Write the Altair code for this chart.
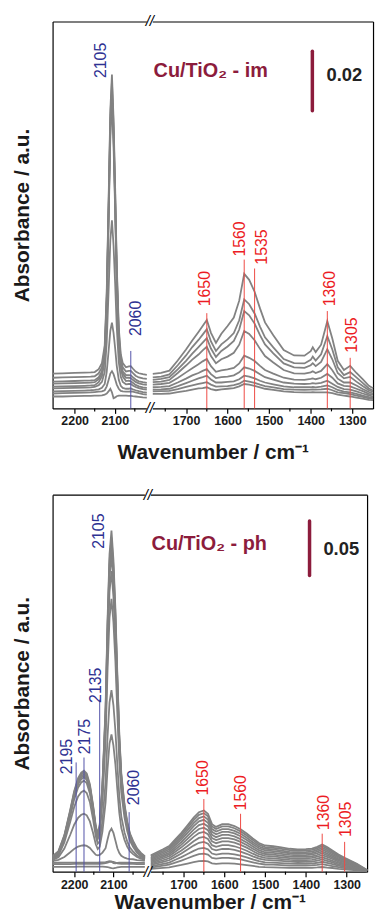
import altair as alt
import pandas as pd

FONT = "Liberation Sans"
MAROON = "#8C1C3C"
RED = "#EC1C24"
RED_LINE = "#EE4A44"
NAVY = "#2E3192"
NAVY_LINE = "#5252A8"
GRAY = "#828282"

# ---------------- x axis (broken) ----------------
X_DOMAIN = [2255, 2020, 1780, 1250]
BREAK_LO, BREAK_MID, BREAK_HI = 2020, 1900, 1780
MAJOR_TICKS = [2200, 2100, 1700, 1600, 1500, 1400, 1300]
MINOR_TICKS = [2150, 2050, 1750, 1650, 1550, 1450, 1350]

# ---------------- Cu/TiO2 - im (units of 0.001 absorbance) ----------------
IM_WN_L = [2255, 2230, 2200, 2175, 2160, 2150, 2140, 2132, 2125, 2120, 2115, 2111, 2107, 2103,
           2099, 2095, 2090, 2085, 2080, 2072, 2065, 2060, 2055, 2048, 2040, 2030, 2020]
IM_L1 = [4.0, 4.0, 4.1, 4.2, 4.2, 4.3, 4.3, 4.4, 4.6, 5.0, 5.8, 6.6, 5.4, 3.4, 3.7, 4.1, 4.3, 4.3, 4.3, 4.3, 4.2, 4.2, 4.1, 4.0, 3.9, 3.7, 3.6]
IM_L2 = [5.0, 5.1, 5.2, 5.3, 5.4, 5.5, 5.6, 5.7, 6.1, 7.4, 9.7, 11.7, 12.5, 11.5, 9.8, 8.0, 6.6, 5.9, 5.7, 5.6, 5.6, 5.7, 5.6, 5.4, 5.1, 4.8, 4.6]
IM_L3 = [5.7, 5.8, 5.9, 6.0, 6.1, 6.2, 6.4, 6.9, 8.2, 12.3, 19.8, 26.1, 28.8, 25.4, 20.2, 14.3, 9.6, 7.6, 6.9, 6.6, 6.6, 6.7, 6.4, 6.1, 5.8, 5.5, 5.3]
IM_L4 = [6.7, 6.8, 6.9, 7.0, 7.1, 7.2, 7.8, 8.9, 12.2, 22.3, 40.8, 56.5, 63.2, 54.8, 41.9, 27.4, 15.6, 10.6, 8.9, 8.1, 8.2, 8.2, 7.7, 7.2, 6.8, 6.5, 6.3]
IM_L5 = [7.3, 7.4, 7.5, 7.6, 7.7, 7.8, 8.8, 10.7, 16.4, 33.5, 64.8, 91.4, 102.8, 88.6, 66.7, 42.0, 22.1, 13.5, 10.7, 9.2, 9.3, 9.1, 8.6, 7.9, 7.4, 7.1, 6.9]
IM_L6 = [8.3, 8.4, 8.5, 8.6, 8.7, 8.8, 9.8, 11.7, 17.5, 35.0, 67.0, 94.2, 105.8, 91.3, 68.9, 43.7, 23.4, 14.6, 11.7, 10.3, 10.3, 10.2, 9.6, 8.9, 8.4, 8.1, 7.9]
IM_L7 = [9.0, 9.1, 9.2, 9.3, 9.4, 9.5, 10.5, 12.4, 18.3, 36.0, 68.3, 95.7, 107.5, 92.8, 70.3, 44.8, 24.2, 15.4, 12.4, 11.2, 11.2, 11.1, 10.5, 9.7, 9.1, 8.8, 8.6]
IM_L8 = [10.3, 10.4, 10.5, 10.6, 10.7, 10.8, 11.8, 13.8, 19.7, 37.5, 70.2, 97.9, 109.8, 95.0, 72.2, 46.4, 25.7, 16.7, 13.8, 12.4, 12.6, 12.6, 11.9, 11.0, 10.4, 10.1, 9.9]
IM_L9 = [11.7, 11.8, 11.9, 12.0, 12.1, 12.2, 13.2, 15.2, 21.2, 39.2, 72.2, 100.2, 112.2, 97.2, 74.2, 48.2, 27.2, 18.2, 15.2, 13.8, 14.1, 14.2, 13.4, 12.4, 11.8, 11.5, 11.3]

IM_WN_R = [1780, 1760, 1740, 1720, 1700, 1685, 1670, 1660, 1650, 1640, 1628, 1615, 1600, 1585, 1572, 1560,
           1548, 1535, 1522, 1510, 1490, 1465, 1440, 1415, 1400, 1395, 1388, 1375, 1360, 1348, 1335, 1320,
           1305, 1290, 1275, 1260, 1250]
IM_R1 = [4.9, 4.9, 5.0, 5.5, 5.9, 6.3, 6.7, 6.8, 7.1, 6.5, 6.1, 6.4, 6.6, 6.8, 7.4, 8.2, 8.0, 7.6, 7.1, 6.6, 6.2, 5.7, 5.5, 5.4, 5.4, 5.5, 5.4, 5.4, 5.4, 5.1, 4.6, 4.3, 4.0, 3.6, 3.3, 2.9, 2.8]
IM_R2 = [5.7, 5.8, 5.9, 6.5, 7.2, 7.7, 8.2, 8.5, 8.8, 8.0, 7.3, 7.4, 7.5, 7.8, 8.3, 9.3, 9.0, 8.6, 8.0, 7.5, 7.1, 6.5, 6.3, 6.2, 6.3, 6.4, 6.3, 6.4, 6.6, 6.1, 5.4, 5.1, 4.8, 4.3, 3.9, 3.4, 3.2]
IM_R3 = [6.3, 6.4, 6.6, 7.5, 8.5, 9.3, 10.1, 10.5, 11.0, 9.7, 8.7, 8.7, 8.9, 9.1, 9.8, 11.0, 10.7, 10.1, 9.3, 8.7, 8.1, 7.4, 7.1, 7.1, 7.1, 7.2, 7.1, 7.3, 7.7, 7.1, 6.2, 5.6, 5.4, 4.9, 4.3, 3.8, 3.6]
IM_R4 = [7.1, 7.2, 7.5, 8.7, 10.0, 11.1, 11.9, 12.6, 13.2, 11.5, 10.2, 10.5, 10.7, 11.1, 12.1, 13.8, 13.4, 12.6, 11.5, 10.5, 9.7, 8.7, 8.3, 8.2, 8.3, 8.5, 8.3, 8.6, 9.3, 8.3, 7.2, 6.5, 6.3, 5.7, 5.0, 4.4, 4.0]
IM_R5 = [8.0, 8.2, 8.6, 10.2, 12.1, 13.5, 14.8, 15.8, 16.6, 14.2, 12.3, 12.8, 13.1, 13.6, 15.1, 17.7, 17.0, 15.9, 14.3, 12.9, 11.7, 10.3, 9.7, 9.6, 9.9, 10.1, 9.8, 10.3, 11.6, 10.3, 8.4, 7.6, 7.4, 6.6, 5.8, 4.9, 4.6]
IM_R6 = [8.8, 9.0, 9.6, 11.9, 14.4, 16.4, 18.1, 19.5, 20.7, 17.6, 15.2, 16.5, 17.4, 18.7, 21.4, 26.0, 25.0, 22.9, 20.0, 17.6, 15.4, 12.9, 11.8, 11.7, 12.1, 12.5, 11.9, 12.6, 14.9, 12.8, 10.0, 8.7, 8.7, 7.7, 6.5, 5.5, 5.0]
IM_R7 = [9.6, 9.9, 10.5, 13.1, 16.0, 18.4, 20.6, 22.1, 23.6, 20.1, 17.3, 19.3, 20.8, 22.7, 26.5, 32.7, 31.3, 28.5, 24.6, 21.5, 18.5, 15.1, 13.8, 13.6, 14.5, 15.2, 14.2, 15.6, 19.9, 16.5, 11.9, 10.1, 10.6, 9.0, 7.5, 6.1, 5.6]
IM_R8 = [10.4, 10.7, 11.4, 14.5, 17.8, 20.6, 23.0, 24.8, 26.6, 22.5, 19.3, 21.5, 23.2, 25.3, 29.6, 36.6, 35.0, 31.9, 27.5, 23.9, 20.5, 16.6, 15.2, 15.1, 16.3, 17.4, 16.1, 18.2, 24.3, 19.8, 13.8, 11.2, 12.2, 10.4, 8.6, 6.7, 6.0]
IM_R9 = [11.6, 11.9, 12.7, 16.1, 19.8, 22.8, 25.7, 27.7, 29.7, 25.4, 22.0, 25.1, 27.7, 30.5, 36.2, 45.2, 43.2, 39.2, 33.6, 28.9, 24.6, 19.6, 17.8, 17.7, 19.2, 20.5, 18.9, 21.4, 29.3, 23.5, 16.0, 12.9, 14.3, 11.9, 9.8, 7.6, 6.8]

# ---------------- Cu/TiO2 - ph (units of 0.001 absorbance) ----------------
PH_WN_L = [2255, 2240, 2225, 2210, 2200, 2190, 2182, 2175, 2168, 2160, 2152, 2145, 2140, 2135, 2128, 2120,
           2115, 2110, 2105, 2100, 2095, 2090, 2085, 2080, 2072, 2065, 2058, 2050, 2040, 2030, 2020]
PH_L1 = [4.5, 4.5, 4.5, 4.5, 4.5, 4.6, 4.6, 4.6, 4.6, 4.6, 4.6, 4.6, 4.6, 4.6, 4.6, 4.5, 4.3, 3.8, 3.2, 3.0, 3.4, 3.9, 4.2, 4.4, 4.5, 4.5, 4.5, 4.5, 4.5, 4.5, 4.5]
PH_L2 = [7.0, 7.0, 7.0, 7.0, 7.1, 7.1, 7.1, 7.1, 7.1, 7.1, 7.1, 7.1, 7.1, 7.2, 7.4, 7.8, 8.4, 9.0, 9.3, 8.9, 8.3, 7.7, 7.4, 7.2, 7.2, 7.1, 7.1, 7.1, 7.0, 7.0, 7.0]
PH_L3 = [8.2, 8.2, 8.3, 8.3, 8.3, 8.4, 8.4, 8.4, 8.4, 8.4, 8.4, 8.4, 8.4, 8.5, 8.6, 8.8, 9.2, 9.7, 9.3, 7.9, 7.7, 8.0, 8.2, 8.2, 8.2, 8.2, 8.2, 8.1, 8.1, 8.0, 8.0]
PH_L4 = [10.0, 10.8, 13.5, 17.8, 20.9, 23.0, 23.9, 24.2, 23.6, 21.8, 18.3, 15.5, 15.0, 15.3, 17.5, 21.5, 29.5, 36.5, 39.4, 35.5, 28.5, 21.5, 17.0, 14.5, 12.8, 12.0, 11.6, 11.4, 10.7, 10.3, 10.0]
PH_L5 = [10.7, 13.2, 21.2, 33.8, 43.0, 49.4, 52.1, 53.0, 51.6, 46.0, 35.6, 25.1, 20.7, 22.7, 36.7, 63.4, 94.2, 117.3, 125.7, 115.4, 98.1, 74.8, 53.6, 40.0, 29.2, 23.0, 18.8, 16.1, 13.5, 11.9, 10.7]
PH_L6 = [11.2, 15.0, 26.8, 45.6, 59.3, 68.9, 72.8, 74.2, 72.0, 63.7, 48.1, 32.5, 25.7, 27.8, 46.4, 82.3, 123.7, 154.9, 166.2, 152.3, 129.0, 97.5, 69.0, 50.7, 36.2, 27.8, 22.1, 18.5, 14.9, 12.8, 11.2]
PH_L7 = [11.7, 16.0, 29.4, 50.7, 66.3, 77.1, 81.7, 83.3, 81.0, 71.7, 54.3, 36.6, 29.8, 35.3, 65.0, 120.7, 184.5, 232.3, 249.7, 228.3, 192.6, 144.3, 100.5, 72.4, 50.0, 37.2, 28.4, 22.9, 17.4, 14.1, 11.7]
PH_L8 = [12.2, 16.6, 30.6, 52.6, 68.7, 80.0, 84.6, 86.4, 84.0, 74.5, 56.5, 38.2, 31.3, 37.8, 70.9, 132.6, 203.1, 256.0, 275.2, 251.5, 212.1, 158.7, 110.3, 79.3, 54.5, 40.3, 30.6, 24.6, 18.5, 14.8, 12.2]
PH_L9 = [12.7, 17.2, 31.3, 53.6, 69.9, 81.4, 86.1, 87.8, 85.4, 75.8, 57.6, 39.0, 32.2, 39.4, 74.5, 139.4, 213.8, 269.5, 289.7, 264.8, 223.2, 167.0, 116.0, 83.3, 57.3, 42.3, 32.1, 25.7, 19.3, 15.5, 12.7]
PH_L10 = [13.2, 17.7, 32.0, 54.6, 71.1, 82.7, 87.5, 89.3, 86.8, 77.2, 58.7, 39.9, 33.2, 40.7, 77.2, 144.6, 221.6, 279.2, 300.2, 274.4, 231.3, 173.1, 120.3, 86.4, 59.4, 43.9, 33.3, 26.7, 20.1, 16.1, 13.2]
PH_L11 = [13.7, 18.3, 32.8, 55.7, 72.5, 84.3, 89.2, 91.0, 88.5, 78.6, 60.0, 40.9, 34.0, 41.7, 78.8, 147.4, 225.7, 284.4, 305.7, 279.4, 235.6, 176.3, 122.6, 88.2, 60.7, 44.9, 34.1, 27.4, 20.7, 16.6, 13.7]
PH_L12 = [14.2, 18.8, 33.5, 56.7, 73.7, 85.6, 90.6, 92.4, 89.9, 80.0, 61.1, 41.8, 34.8, 42.8, 80.6, 150.6, 230.5, 290.4, 312.2, 285.4, 240.7, 180.2, 125.4, 90.2, 62.2, 46.1, 35.1, 28.2, 21.4, 17.2, 14.2]

PH_WN_R = [1780, 1765, 1750, 1735, 1720, 1705, 1690, 1675, 1662, 1650, 1640, 1630, 1620, 1605, 1590, 1575,
           1560, 1545, 1530, 1515, 1500, 1480, 1460, 1440, 1420, 1400, 1385, 1372, 1360, 1348, 1335, 1320,
           1305, 1290, 1275, 1262, 1250]
PH_R1 = [2.5, 3.0, 3.5, 4.0, 5.1, 6.2, 7.5, 8.8, 9.7, 10.0, 9.4, 7.7, 7.2, 7.7, 7.7, 7.4, 6.8, 6.1, 5.3, 4.5, 4.1, 4.0, 3.8, 3.6, 3.5, 3.5, 3.6, 3.9, 4.3, 3.8, 3.4, 2.6, 2.1, 1.7, 1.2, 0.7, 0.3]
PH_R2 = [3.8, 4.6, 5.5, 6.4, 8.3, 10.2, 12.3, 14.5, 16.1, 16.6, 15.6, 12.7, 11.9, 12.7, 12.7, 12.1, 11.2, 10.0, 8.6, 7.3, 6.6, 6.4, 6.0, 5.6, 5.5, 5.5, 5.7, 6.2, 6.9, 6.1, 5.2, 4.1, 3.3, 2.6, 1.8, 1.0, 0.4]
PH_R3 = [5.0, 6.1, 7.2, 8.4, 10.9, 13.4, 16.2, 19.1, 21.2, 21.8, 20.5, 16.6, 15.6, 16.6, 16.6, 15.9, 14.7, 13.2, 11.3, 9.6, 8.6, 8.4, 7.9, 7.4, 7.2, 7.3, 7.5, 8.2, 9.1, 8.0, 6.9, 5.5, 4.4, 3.4, 2.5, 1.4, 0.5]
PH_R4 = [6.2, 7.6, 9.0, 10.5, 13.6, 16.7, 20.3, 23.9, 26.5, 27.3, 25.7, 20.8, 19.5, 20.8, 20.8, 20.0, 18.4, 16.4, 14.1, 12.0, 10.8, 10.4, 9.9, 9.2, 8.9, 9.0, 9.3, 10.2, 11.3, 10.0, 8.6, 6.8, 5.5, 4.2, 3.1, 1.8, 0.6]
PH_R5 = [7.3, 8.9, 10.5, 12.3, 15.9, 19.5, 23.6, 27.9, 30.9, 31.8, 30.0, 24.3, 22.8, 24.3, 24.3, 23.3, 21.5, 19.2, 16.5, 14.0, 12.6, 12.2, 11.5, 10.8, 10.5, 10.6, 10.9, 11.9, 13.2, 11.7, 10.0, 8.0, 6.4, 4.9, 3.5, 2.1, 0.7]
PH_R6 = [8.4, 10.2, 12.1, 14.1, 18.2, 22.3, 27.0, 31.9, 35.3, 36.4, 34.3, 27.8, 26.1, 27.8, 27.8, 26.6, 24.6, 22.0, 18.9, 16.0, 14.5, 14.0, 13.2, 12.4, 12.0, 12.2, 12.6, 13.7, 15.2, 13.5, 11.6, 9.1, 7.3, 5.7, 4.1, 2.4, 0.8]
PH_R7 = [9.5, 11.5, 13.6, 15.8, 20.3, 24.8, 30.0, 35.3, 39.1, 40.3, 38.0, 30.8, 29.0, 30.8, 30.8, 29.6, 27.3, 24.4, 21.1, 17.9, 16.2, 15.7, 14.8, 13.9, 13.5, 13.6, 14.1, 15.3, 16.9, 15.1, 12.9, 10.4, 8.2, 6.4, 4.6, 2.7, 1.0]
PH_R8 = [10.6, 12.8, 15.0, 17.4, 22.3, 27.2, 32.8, 38.5, 42.6, 43.9, 41.4, 33.7, 31.6, 33.7, 33.7, 32.3, 29.8, 26.8, 23.1, 19.7, 17.8, 17.3, 16.4, 15.4, 14.9, 15.1, 15.6, 16.9, 18.6, 16.6, 14.3, 11.4, 9.1, 7.1, 5.2, 3.0, 1.1]
PH_R9 = [11.7, 14.1, 16.4, 19.0, 24.3, 29.5, 35.5, 41.7, 46.1, 47.5, 44.8, 36.5, 34.3, 36.5, 36.5, 35.0, 32.4, 29.1, 25.1, 21.5, 19.5, 18.9, 17.9, 16.9, 16.3, 16.5, 17.0, 18.4, 20.3, 18.2, 15.6, 12.5, 10.1, 7.8, 5.6, 3.3, 1.2]
PH_R10 = [12.8, 15.3, 17.8, 20.5, 26.1, 31.6, 38.0, 44.5, 49.1, 50.6, 47.7, 39.0, 36.7, 39.0, 39.0, 37.4, 34.7, 31.1, 27.0, 23.1, 21.0, 20.4, 19.3, 18.2, 17.7, 17.9, 18.4, 19.9, 21.9, 19.6, 17.0, 13.7, 11.0, 8.5, 6.1, 3.6, 1.3]
PH_R11 = [14.0, 16.6, 19.2, 22.1, 27.9, 33.7, 40.4, 47.2, 52.1, 53.6, 50.6, 41.4, 39.0, 41.4, 41.4, 39.8, 36.9, 33.2, 28.9, 24.8, 22.6, 21.9, 20.9, 19.7, 19.1, 19.3, 19.9, 21.4, 23.6, 21.1, 18.3, 14.8, 11.9, 9.3, 6.7, 3.9, 1.4]
PH_R12 = [15.1, 17.8, 20.5, 23.5, 29.5, 35.5, 42.4, 49.5, 54.5, 56.1, 53.0, 43.5, 41.0, 43.5, 43.5, 41.8, 38.8, 35.0, 30.5, 26.3, 24.0, 23.3, 22.2, 21.0, 20.4, 20.6, 21.2, 22.8, 25.0, 22.5, 19.5, 15.8, 12.8, 10.0, 7.2, 4.2, 1.5]

# ---------------- peak assignments ----------------
IM_PEAK_TEXT = ["2105", "2060", "1650", "1560", "1535", "1360", "1305"]
IM_PEAK_WN = [2105, 2060, 1650, 1560, 1535, 1360, 1305]
PH_PEAK_TEXT = ["2195", "2175", "2135", "2105", "2060", "1650", "1560", "1360", "1305"]
PH_PEAK_WN = [2195, 2175, 2135, 2105, 2060, 1650, 1560, 1360, 1305]

# annotation layout: (marker line top, label start) in panel units, label shift px
IM_LAYOUT = [(None, 111.0, -12), (19.3, 24.3, 5), (32.0, 34.3, -2), (50.0, 51.0, -4),
             (47.0, 48.3, 8), (32.7, 34.3, 3), (17.0, 18.7, 2)]
PH_LAYOUT = [(100.0, 89.3, -9), (104.5, 107.5, 1), (157.5, 154.5, -4), (None, 295.5, -13),
             (54.5, 60.9, 5), (66.5, 69.7, -1), (53.0, 56.1, 0), (34.8, 38.0, 2), (27.3, 31.8, 1)]


def curves_df(wn_l, wn_r, lefts, rights):
    rows = []
    for i, (vl, vr) in enumerate(zip(lefts, rights), start=1):
        assert len(vl) == len(wn_l), (i, len(vl))
        assert len(vr) == len(wn_r), (i, len(vr))
        rows += [{"wn": w, "a": v, "key": f"L{i}"} for w, v in zip(wn_l, vl)]
        rows += [{"wn": w, "a": v, "key": f"R{i}"} for w, v in zip(wn_r, vr)]
    return pd.DataFrame(rows)


def panel(df, xrange, ydom, W, H, sample, sample_y, bar_wn, bar_lo, bar_hi, bar_text,
          bar_text_wn, bar_text_y, peak_text, peak_wn, layout, title_pad, label_pad):
    xs = alt.Scale(domain=X_DOMAIN, range=xrange, zero=False, nice=False)
    ys = alt.Scale(domain=ydom, zero=False, nice=False)
    x_axis = alt.Axis(values=MAJOR_TICKS, format="d", title="Wavenumber / cm\u207b\u00b9", grid=False,
                      labelFont=FONT, labelFontWeight="bold", labelFontSize=12.5, labelColor="#1a1a1a",
                      labelPadding=label_pad, labelFlush=False, labelOverlap=False,
                      tickSize=5, tickColor="black", tickWidth=1.2,
                      domainColor="black", domainWidth=1.2,
                      titleFont=FONT, titleFontSize=21, titleFontWeight="bold", titleColor="#1a1a1a",
                      titlePadding=title_pad)
    y_axis = alt.Axis(title="Absorbance / a.u.", labels=False, ticks=False, grid=False,
                      domainColor="black", domainWidth=1.2,
                      titleFont=FONT, titleFontSize=21, titleFontWeight="bold", titleColor="#1a1a1a",
                      titlePadding=20)
    layers = []
    layers.append(alt.Chart(df).mark_line(color=GRAY, strokeWidth=1.8).encode(
        x=alt.X("wn:Q", scale=xs, axis=x_axis),
        y=alt.Y("a:Q", scale=ys, axis=y_axis),
        detail="key:N"))
    # frame: top and right axis domains
    layers.append(alt.Chart(df).mark_point(opacity=0).encode(
        x=alt.X("wn:Q", scale=xs, axis=alt.Axis(orient="top", labels=False, ticks=False, title=None,
                                                   grid=False, domainColor="black", domainWidth=1.2)),
        y=alt.Y("a:Q", scale=ys, axis=alt.Axis(orient="right", labels=False, ticks=False, title=None,
                                                  grid=False, domainColor="black", domainWidth=1.2))))
    # minor ticks
    layers.append(alt.Chart(pd.DataFrame({"wn": MINOR_TICKS})).mark_rule(color="black", strokeWidth=1.2).encode(
        x=alt.X("wn:Q", scale=xs, axis=None), y=alt.value(H), y2=alt.value(H + 3)))
    # axis break
    brk = pd.DataFrame({"lo": [BREAK_LO], "hi": [BREAK_HI], "mid": [BREAK_MID], "s": ["//"]})
    for yv in (0, H):
        layers.append(alt.Chart(brk).mark_rect(color="white").encode(
            x=alt.X("lo:Q", scale=xs, axis=None), x2="hi:Q", y=alt.value(yv - 3), y2=alt.value(yv + 3)))
        layers.append(alt.Chart(brk).mark_text(font=FONT, fontSize=15, color="black", align="center",
                                               baseline="middle", fontStyle="italic").encode(
            x=alt.X("mid:Q", scale=xs, axis=None), y=alt.value(yv), text="s:N"))
    # peak markers and labels
    for txt, wn, (top, base, shift) in zip(peak_text, peak_wn, layout):
        blue = wn > 2000
        d = pd.DataFrame({"wn": [wn], "top": [top if top is not None else 0.0], "bot": [0.0],
                          "base": [base], "t": [txt]})
        if top is not None:
            layers.append(alt.Chart(d).mark_rule(color=NAVY_LINE if blue else RED_LINE, strokeWidth=1).encode(
                x=alt.X("wn:Q", scale=xs, axis=None), y=alt.Y("top:Q", scale=ys, axis=None), y2="bot:Q"))
        layers.append(alt.Chart(d).mark_text(font=FONT, fontSize=16, angle=270, align="left",
                                            baseline="middle", dy=shift,
                                            color=NAVY if blue else RED).encode(
            x=alt.X("wn:Q", scale=xs, axis=None), y=alt.Y("base:Q", scale=ys, axis=None), text="t:N"))
    # sample name
    sd = pd.DataFrame({"wn": [1778], "y": [sample_y], "t": [sample]})
    layers.append(alt.Chart(sd).mark_text(font=FONT, fontSize=20, fontWeight="bold", color=MAROON,
                                         align="left", baseline="middle").encode(
        x=alt.X("wn:Q", scale=xs, axis=None), y=alt.Y("y:Q", scale=ys, axis=None), text="t:N"))
    # scale bar
    bd = pd.DataFrame({"wn": [bar_wn], "lo": [bar_lo], "hi": [bar_hi]})
    layers.append(alt.Chart(bd).mark_rule(color=MAROON, strokeWidth=3.5, strokeCap="round").encode(
        x=alt.X("wn:Q", scale=xs, axis=None), y=alt.Y("lo:Q", scale=ys, axis=None), y2="hi:Q"))
    bt = pd.DataFrame({"wn": [bar_text_wn], "y": [bar_text_y], "t": [bar_text]})
    layers.append(alt.Chart(bt).mark_text(font=FONT, fontSize=18.5, fontWeight="bold", color="#222222",
                                         align="left", baseline="middle").encode(
        x=alt.X("wn:Q", scale=xs, axis=None), y=alt.Y("y:Q", scale=ys, axis=None), text="t:N"))
    return alt.layer(*layers).resolve_axis(x="independent", y="independent").properties(width=W, height=H)


im_df = curves_df(IM_WN_L, IM_WN_R, [IM_L1, IM_L2, IM_L3, IM_L4, IM_L5, IM_L6, IM_L7, IM_L8, IM_L9],
                  [IM_R1, IM_R2, IM_R3, IM_R4, IM_R5, IM_R6, IM_R7, IM_R8, IM_R9])
ph_df = curves_df(PH_WN_L, PH_WN_R,
                  [PH_L1, PH_L2, PH_L3, PH_L4, PH_L5, PH_L6, PH_L7, PH_L8, PH_L9, PH_L10, PH_L11, PH_L12],
                  [PH_R1, PH_R2, PH_R3, PH_R4, PH_R5, PH_R6, PH_R7, PH_R8, PH_R9, PH_R10, PH_R11, PH_R12])

top = panel(im_df, [0, 95, 101, 323], [0, 130], 323, 390, "Cu/TiO\u2082 - im", 113.3,
            1396, 100, 120, "0.02", 1362, 112, IM_PEAK_TEXT, IM_PEAK_WN, IM_LAYOUT, 15, 1)
bottom = panel(ph_df, [0, 93, 99, 317], [0, 345], 317, 380, "Cu/TiO\u2082 - ph", 299.6,
               1391, 271, 321, "0.05", 1357, 295, PH_PEAK_TEXT, PH_PEAK_WN, PH_LAYOUT, 1.5, 1.5)

chart = alt.vconcat(top, bottom, spacing=25).configure_view(stroke=None).properties(
    padding={"left": 12, "top": 11, "right": 0, "bottom": 0}, background="white")

chart.save("out.html", embed_options={"renderer": "svg", "actions": False})
